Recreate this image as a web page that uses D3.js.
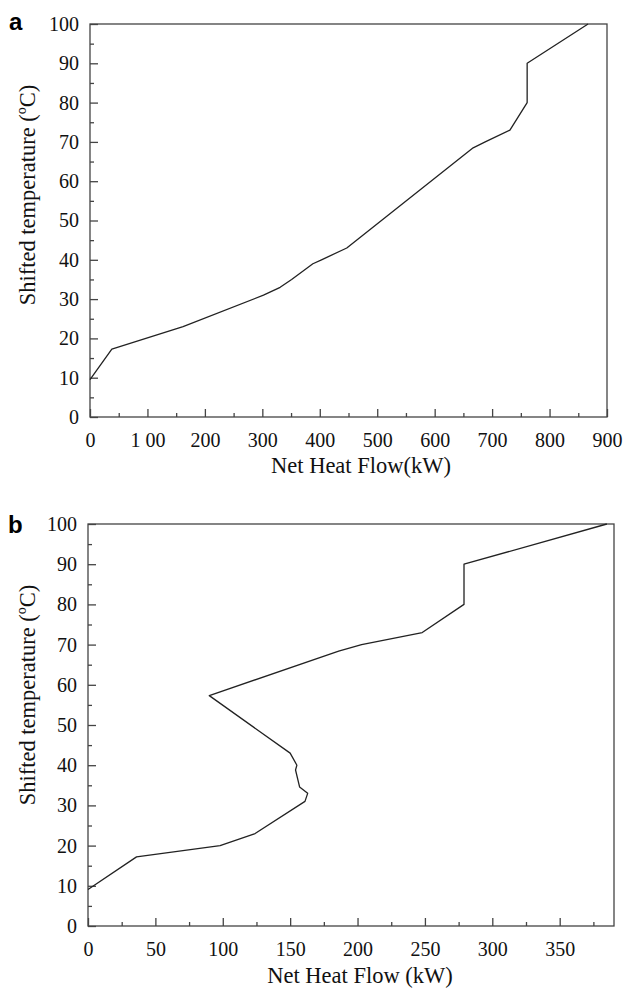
<!DOCTYPE html>
<html lang="en">
    <head>
        <meta charset="utf-8">
        <title>Composite curves</title>
        <script src="https://cdn.jsdelivr.net/npm/d3@7/dist/d3.min.js" charset="utf-8"></script>
        <style type="text/css">
            body { margin: 0; background: #fff; }
         </style>
    </head>
    <body>
        <div id="chart"></div>
        <script>
            // Panel a
            var flowA = [0, 38, 162, 302, 331, 351, 388, 403, 447, 667, 688, 731, 761, 761, 867];
            var tempA = [9.5, 17.3, 23, 31, 33, 35, 39, 40, 43, 68.5, 70, 73, 80, 90, 100];
            var xTicksA = [0, 100, 200, 300, 400, 500, 600, 700, 800, 900];
            var xLabelsA = ["0", "1 00", "200", "300", "400", "500", "600", "700", "800", "900"];

            // Panel b
            var flowB = [0, 36, 98, 124, 161, 163, 157, 154, 155, 150, 90, 186, 203, 248, 279, 279, 385];
            var tempB = [9.1, 17.2, 20, 23, 31, 33, 34.6, 38.8, 40, 43, 57.3, 68.4, 70, 73, 80, 90, 100];
            var xTicksB = [0, 50, 100, 150, 200, 250, 300, 350];
            var xLabelsB = ["0", "50", "100", "150", "200", "250", "300", "350"];

            var yTicks = [0, 10, 20, 30, 40, 50, 60, 70, 80, 90, 100];

            var serif = "'Liberation Serif', 'Times New Roman', Times, serif";

            var svg = d3.select("#chart").append("svg")
                .attr("width", 624)
                .attr("height", 990)
                .attr("font-family", serif);

            function panel(opt) {
                var g = svg.append("g");
                var x = d3.scaleLinear().domain(opt.xDomain).range([opt.left, opt.right]);
                var y = d3.scaleLinear().domain([0, 100]).range([opt.bottom, opt.top]);

                // frame
                g.append("rect")
                    .attr("x", opt.left).attr("y", opt.top)
                    .attr("width", opt.right - opt.left).attr("height", opt.bottom - opt.top)
                    .attr("fill", "none").attr("stroke", "#444").attr("stroke-width", 1.3);

                // minor ticks
                var xMinor = d3.axisBottom(x).tickValues(opt.xMinor).tickSize(-4).tickFormat("");
                g.append("g").attr("transform", "translate(0," + opt.bottom + ")").call(xMinor);
                var yMinor = d3.axisLeft(y).tickValues(d3.range(5, 100, 10)).tickSize(-4).tickFormat("");
                g.append("g").attr("transform", "translate(" + opt.left + ",0)").call(yMinor);

                // major ticks
                var xAxis = d3.axisBottom(x).tickValues(opt.xTicks).tickSize(-8).tickPadding(16)
                    .tickFormat(function(d, i) { return opt.xLabels[i]; });
                g.append("g").attr("transform", "translate(0," + opt.bottom + ")").call(xAxis);
                var yAxis = d3.axisLeft(y).tickValues(yTicks).tickSize(-8).tickPadding(11);
                g.append("g").attr("transform", "translate(" + opt.left + ",0)").call(yAxis);

                g.selectAll(".domain").remove();
                g.selectAll("g").attr("font-family", serif).attr("font-size", 20);
                g.selectAll(".tick line").attr("stroke", "#444").attr("stroke-width", 1.3);
                g.selectAll(".tick text").attr("fill", "#111");

                // curve
                var pts = opt.flow.map(function(f, i) { return [f, opt.temp[i]]; });
                var line = d3.line().x(function(d) { return x(d[0]); }).y(function(d) { return y(d[1]); });
                g.append("path").datum(pts)
                    .attr("d", line)
                    .attr("fill", "none").attr("stroke", "#222").attr("stroke-width", 1.3)
                    .attr("stroke-linejoin", "round");

                // titles
                g.append("text")
                    .attr("transform", "translate(" + opt.yTitleX + "," + opt.yTitleY + ") rotate(-90)")
                    .attr("text-anchor", "middle")
                    .attr("font-family", serif).attr("font-size", 22.5).attr("fill", "#111")
                    .text("Shifted temperature (\u00baC)");
                g.append("text")
                    .attr("x", opt.xTitleX).attr("y", opt.xTitleY)
                    .attr("text-anchor", "middle")
                    .attr("font-family", serif).attr("font-size", 22.5).attr("fill", "#111")
                    .text(opt.xTitle);
                g.append("text")
                    .attr("x", opt.tagX).attr("y", opt.tagY)
                    .attr("font-family", "'Liberation Sans', Arial, sans-serif")
                    .attr("font-weight", "bold").attr("font-size", 24).attr("fill", "#000")
                    .text(opt.tag);
            }

            panel({
                tag: "a", tagX: 9, tagY: 30,
                left: 90, right: 607, top: 24, bottom: 417,
                xDomain: [0, 900], xTicks: xTicksA, xLabels: xLabelsA,
                xMinor: d3.range(50, 900, 100),
                flow: flowA, temp: tempA,
                yTitleX: 35, yTitleY: 195,
                xTitleX: 361, xTitleY: 473, xTitle: "Net Heat Flow(kW)"
            });

            panel({
                tag: "b", tagX: 8, tagY: 533,
                left: 88, right: 614, top: 524, bottom: 926,
                xDomain: [0, 390.3], xTicks: xTicksB, xLabels: xLabelsB,
                xMinor: d3.range(25, 390, 50),
                flow: flowB, temp: tempB,
                yTitleX: 35, yTitleY: 695,
                xTitleX: 360, xTitleY: 983, xTitle: "Net Heat Flow (kW)"
            });
        </script>
    </body>
</html>
